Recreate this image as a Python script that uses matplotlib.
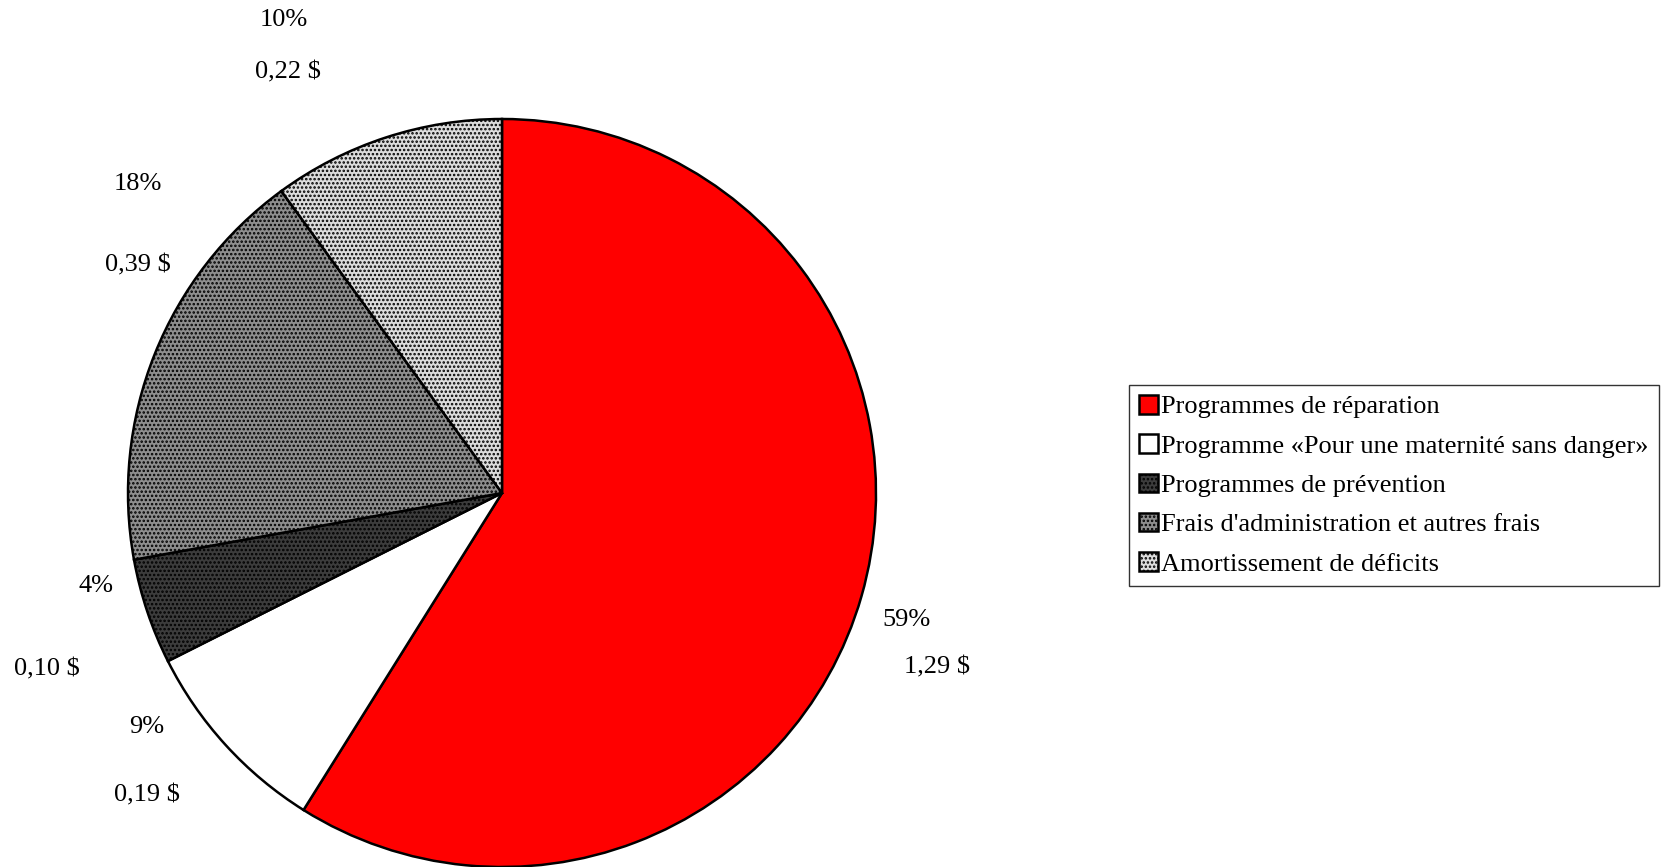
import matplotlib
matplotlib.use("Agg")
import matplotlib.pyplot as plt

categories = [
    "Programmes de réparation",
    "Programme «Pour une maternité sans danger»",
    "Programmes de prévention",
    "Frais d'administration et autres frais",
    "Amortissement de déficits",
]
amounts = [1.29, 0.19, 0.10, 0.39, 0.22]
pct_labels = ["59%", "9%", "4%", "18%", "10%"]
amount_labels = ["1,29 $", "0,19 $", "0,10 $", "0,39 $", "0,22 $"]

face_colors = ["#ff0000", "#ffffff", "#3c3c3c", "#8e8e8e", "#dcdcdc"]
hatches = [None, None, "....", "....", "...."]

# label anchor points in figure pixels (x, y from top): percent line, amount line
label_pos = [
    ((907, 620), (937, 667)),
    ((147, 727), (147, 795)),
    ((96, 586), (47, 669)),
    ((138, 184), (138, 265)),
    ((284, 20), (288, 72)),
]

plt.rcParams["font.family"] = ["Liberation Serif", "DejaVu Serif"]
plt.rcParams["hatch.linewidth"] = 1.2

W, H = 1662, 867
fig = plt.figure(figsize=(W / 100, H / 100), dpi=100)
fig.patch.set_facecolor("white")

cx, cy, r = 502, 493, 374
ax = fig.add_axes([(cx - r) / W, (H - cy - r) / H, 2 * r / W, 2 * r / H])
wedges, _ = ax.pie(
    amounts,
    startangle=90,
    counterclock=False,
    colors=face_colors,
    radius=1.0,
    wedgeprops=dict(edgecolor="black", linewidth=1.8),
)
for w, h in zip(wedges, hatches):
    if h:
        w.set_hatch(h)
    w.set_clip_on(False)
ax.set_xlim(-1, 1)
ax.set_ylim(-1, 1)
ax.set_aspect("equal")
ax.axis("off")

for (p1, p2), t1, t2 in zip(label_pos, pct_labels, amount_labels):
    fig.text(p1[0] / W, 1 - p1[1] / H, t1, ha="center", va="center", fontsize=19)
    fig.text(p2[0] / W, 1 - p2[1] / H, t2, ha="center", va="center", fontsize=19)

leg = fig.legend(
    wedges,
    categories,
    loc="upper left",
    bbox_to_anchor=(1129 / W, 1 - 385 / H),
    fontsize=19,
    frameon=True,
    fancybox=False,
    handlelength=0.7,
    handleheight=0.7,
    handletextpad=0.15,
    labelspacing=0.6,
    borderpad=0.38,
    borderaxespad=0,
)
leg.get_frame().set_edgecolor("black")
leg.get_frame().set_linewidth(1.0)

fig.savefig("out.png", dpi=100)
